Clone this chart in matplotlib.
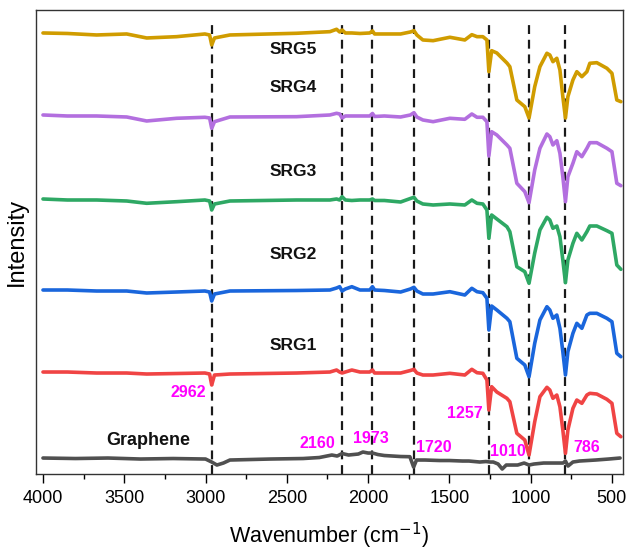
import matplotlib
matplotlib.use("Agg")
import matplotlib.pyplot as plt
from matplotlib.ticker import MultipleLocator
import numpy as np

plt.rcParams['font.family'] = ['Liberation Sans', 'DejaVu Sans']

# ---------------- data ----------------
wn_srg = [4000, 3850, 3670, 3485, 3362, 3178, 3004, 2975, 2962, 2945,
          2850, 2440, 2235, 2194, 2175, 2160, 2140, 2100, 2050, 1990,
          1973, 1960, 1900, 1800, 1740, 1718, 1700, 1663, 1600, 1497,
          1405, 1362, 1330, 1294, 1269, 1257, 1240, 1208, 1146, 1128,
          1085, 1036, 1010, 975, 943, 900, 882, 863, 839, 820,
          802, 786, 771, 740, 716, 685, 654, 636, 593, 531,
          500, 470, 445]

# absorption depth below each spectrum's own baseline (a.u.)
depth_srg5 = [0, 0.5, 2, 1, 5, 3.7, 1, 2, 12, 5,
              2, 0.3, -1.3, -3.7, -1, -3, 0, 0, 0.5, 0,
              -2, 1, 1, 1, -1, -2.3, 2, 7, 7.7, 4.3,
              7, 1.7, 3.7, 3.7, 7, 38.7, 17.7, 20, 30, 33.7,
              67, 73.7, 85, 53.7, 33.7, 20.3, 22, 28.7, 25.3, 37,
              63.7, 85, 63.7, 47, 38.7, 43.7, 38.7, 30.3, 29.7, 35.3,
              40.3, 67, 68.7]
depth_srg4 = [-1, 0, 0, 1, 5, 2.3, 1.3, 2, 12.3, 5.7,
              1, 0.7, -1, -2.7, -2, 2, 0, 0, 0, 0,
              -2.5, 0.5, 0, 1, -1, -3.3, 1, 4, 5.7, 2.3,
              3.3, -2, 1.3, 1.3, 5.7, 40, 15.7, 19, 29, 32.3,
              67.3, 75.7, 86.7, 54, 32.3, 18, 20.7, 29, 24.7, 37.3,
              60.7, 85.7, 60.7, 47.3, 35.7, 40.7, 32.3, 26.7, 26.7, 32.3,
              35.7, 67.3, 69.7]
depth_srg3 = [-1, 0, 0, 1, 3.3, 1.7, 0, 1, 10, 4,
              1, 0, 0, -1, 0, -3.3, 0, 0.5, 0, 0,
              -1, 0.5, 0.5, 2, -1.5, -2.7, 1, 4, 5, 4,
              5, 0, 3.3, 4, 10, 38.3, 15, 19, 26.7, 31.7,
              66.7, 71.7, 83.3, 53, 30, 17.3, 20, 28.3, 26, 36.7,
              60, 82.7, 60, 43.3, 33.3, 40, 31.7, 26, 26, 30.7,
              33.3, 65, 69.3]
depth_srg2 = [0, 0, 1, 1, 3, 2, 1, 2, 11, 4,
              1, 0.5, 0, -2, -3.3, 1, -1, -3.3, 0, 0,
              -3.3, 0, 0.5, 2, -1, -2.7, 1, 4, 4, 1.7,
              5, -1.7, 1.7, 2.7, 8.3, 40, 16, 20, 28.3, 31.7,
              68.3, 75, 86.7, 53.3, 30, 16.7, 20, 28.3, 25, 38.3,
              61.7, 85, 61.7, 43.3, 33.3, 38.3, 25, 23.3, 23.3, 28.3,
              31.7, 63.3, 66.7]
depth_srg1 = [0, 0, 1, 1, 2, 1.5, 1, 2, 13, 3,
              2, 1, 0, -2, 0, 1, 0, -2, 0, 0,
              -2, 1, 1, 1, -1.5, -2.7, 1, 3, 3, 1.3,
              3, -2.7, 0.7, 1.3, 8, 38, 14.7, 20, 26.3, 29.7,
              61.3, 68, 83, 49.7, 24.7, 15.3, 18, 26.3, 23, 34.7,
              58, 81.3, 58, 36.3, 28, 31.3, 23, 21.3, 22, 27.3,
              31.3, 61.3, 64.7]

wn_graphene = [4000, 3800, 3600, 3400, 3200, 3000, 2962, 2930, 2890, 2850,
               2600, 2400, 2300, 2223, 2190, 2160, 2120, 2060, 2032, 2000,
               1973, 1940, 1900, 1800, 1743, 1720, 1702, 1650, 1560, 1500,
               1420, 1380, 1313, 1275, 1250, 1230, 1200, 1175, 1150, 1120,
               1080, 1040, 1010, 980, 920, 860, 800, 786, 770, 740,
               700, 600, 520, 450]
depth_graphene = [0, 0.5, 0, 1, 0.5, 1, 4, 7, 5, 2,
                  1, 0.5, -0.5, -3, -2, -4.5, -3, -4, -6, -5,
                  -5, -3.5, -2.5, -1.5, -1.3, 9, 2, 2, 2.5, 2.5,
                  3, 3, 4, 3.5, 4, 4, 6, 11, 7, 7,
                  7, 5, 7, 6, 5, 5, 5, 3, 8, 4,
                  3, 2, 1, 0]

series_names = ['SRG5', 'SRG4', 'SRG3', 'SRG2', 'SRG1', 'Graphene']
series_offsets = [441, 358, 274, 184, 102, 16]
series_colors = ['#D09C00', '#B36FDF', '#2EA864', '#1A66DC', '#F04444', '#505050']

peak_positions = [2962, 2160, 1973, 1720, 1257, 1010, 786]
peak_labels = ['2962', '2160', '1973', '1720', '1257', '1010', '786']
peak_label_x = [3108, 2309, 1983, 1595, 1405, 1140, 655]
peak_label_y = [82, 31, 36, 27, 61, 23, 27]

name_label_x = [2462, 2462, 2462, 2462, 2462, 3354]
name_label_y = [424, 386, 302, 220, 129, 34]

# ---------------- plot ----------------
fig = plt.figure(figsize=(6.27, 5.51), dpi=100)
ax = fig.add_axes([0.0574, 0.1397, 0.9362, 0.8422])

for p in peak_positions:
    ax.axvline(p, ymin=0, ymax=0.978, color='#1a1a1a', lw=1.6,
               ls=(0, (4, 2.6)), zorder=1)

depths = [depth_srg5, depth_srg4, depth_srg3, depth_srg2, depth_srg1, depth_graphene]
wns = [wn_srg] * 5 + [wn_graphene]
for wn, d, off, col in zip(wns, depths, series_offsets, series_colors):
    y = off - np.asarray(d, dtype=float)
    ax.plot(wn, y, color=col, lw=2.6, solid_joinstyle='round',
            solid_capstyle='round', zorder=2)

for name, x, y in zip(series_names, name_label_x, name_label_y):
    ax.text(x, y, name, ha='center', va='center',
            fontsize=13 if name == 'Graphene' else 12.5,
            fontweight='bold', color='#111111')

for lab, x, y in zip(peak_labels, peak_label_x, peak_label_y):
    ax.text(x, y, lab, ha='center', va='center', fontsize=11.5,
            fontweight='bold', color='#FF00FF')

ax.set_xlim(4043, 432)
ax.set_ylim(0, 464)
ax.xaxis.set_major_locator(MultipleLocator(500))
ax.xaxis.set_minor_locator(MultipleLocator(250))
ax.tick_params(axis='x', which='major', direction='out', length=6.5, width=1,
               labelsize=13, pad=5)
ax.tick_params(axis='x', which='minor', direction='out', length=3.5, width=1)
ax.set_yticks([])
for s in ax.spines.values():
    s.set_color('#333333')
    s.set_linewidth(1.0)

ax.set_xlabel('Wavenumber (cm$^{-1}$)', fontsize=15.5, labelpad=10)
ax.set_ylabel('Intensity', fontsize=17, labelpad=6)

fig.savefig('out.png', dpi=100)
